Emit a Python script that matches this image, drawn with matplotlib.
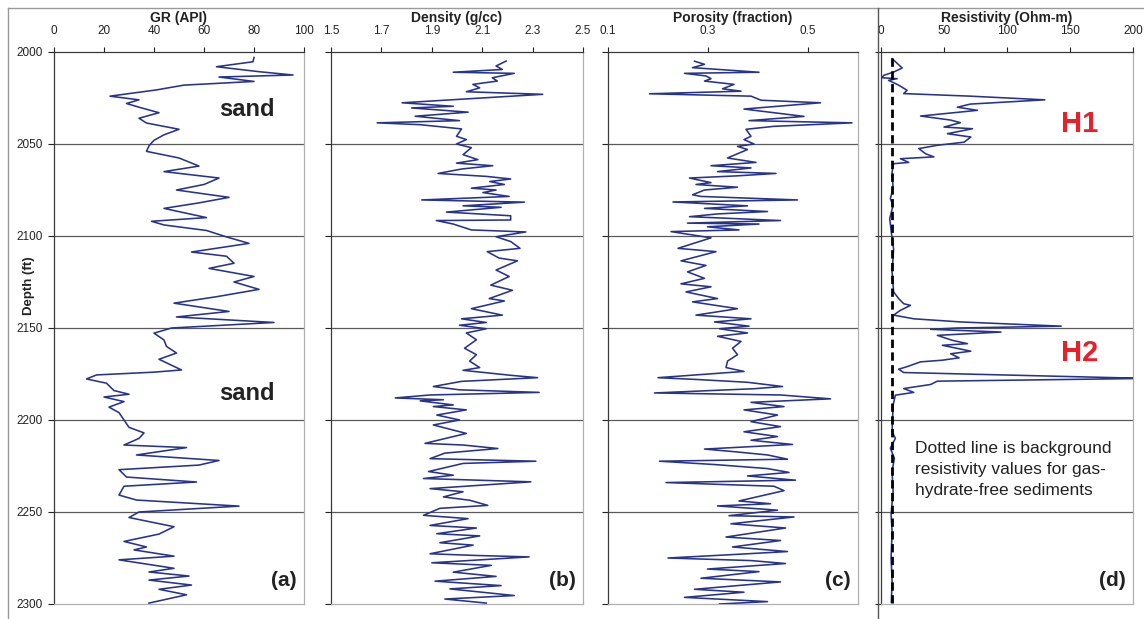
import numpy as np
import matplotlib
matplotlib.use("Agg")
import matplotlib.pyplot as plt
from matplotlib.lines import Line2D

plt.rcParams['font.family'] = ['Liberation Sans', 'DejaVu Sans']

# ---------------- data ----------------
gr_depth = [2003, 2005.3, 2008, 2010.7, 2012.5, 2013.6, 2016, 2018, 2020.6, 2024, 2026, 2028, 2030,
            2033, 2036, 2038.6, 2042, 2045, 2048, 2051, 2054, 2057.6, 2062, 2065, 2068.5, 2072, 2075,
            2079, 2082, 2085, 2090, 2092, 2094, 2097, 2100.5, 2104, 2108.7, 2111, 2114.8, 2117.6,
            2122, 2125, 2129, 2133, 2136.5, 2141, 2144, 2147, 2150, 2152.8, 2156.5, 2160, 2163.6,
            2167, 2172.8, 2174, 2175.5, 2177.7, 2180, 2184, 2186, 2187.5, 2190, 2193, 2196, 2200,
            2204, 2207, 2210, 2213.6, 2215, 2219, 2222, 2224.5, 2227, 2231, 2233.7, 2236, 2240.8,
            2243.5, 2246.8, 2250, 2253, 2258, 2262, 2266, 2269, 2270.6, 2274, 2276, 2280.6, 2282.6,
            2284.8, 2287, 2289.7, 2292, 2295, 2299.5]
gr_api = [80, 79.6, 65, 82, 95.6, 66, 80, 52, 41, 22.4, 34, 29, 34,
          42, 34, 37, 50, 44, 40, 38, 37, 50, 58, 44, 66, 60, 49,
          70, 58, 44, 61, 39, 44, 61, 69, 78, 55, 69, 72, 62,
          80, 72, 82, 65, 48, 70, 49, 88, 47, 40, 44, 45, 49,
          42, 51, 40, 17, 13, 21, 24, 30, 20, 28, 22, 26, 28,
          30, 36, 34, 28, 53, 33, 66, 58, 26, 29, 57, 28, 26,
          33, 74, 34, 30, 48, 42, 28, 37, 32, 48, 26, 48, 38,
          54, 38, 55, 42, 53, 38]

den_depth = [2004.9, 2007.6, 2009.5, 2011, 2011.6, 2014, 2015.8, 2017.6, 2019.5, 2021.6, 2023, 2025.8,
             2027.6, 2029.5, 2030.4, 2032.7, 2034.9, 2037.3, 2038.5, 2039.5, 2041.8, 2045.8, 2047.6,
             2050, 2052, 2055.8, 2058.5, 2060.4, 2061.8, 2063.6, 2066, 2067.6, 2069, 2070.4, 2072,
             2074, 2075, 2076.4, 2078.5, 2080.4, 2081.6, 2083.6, 2084.4, 2087, 2089, 2091.3, 2091.6,
             2093.5, 2096.7, 2097.8, 2100.4, 2103, 2106.7, 2108.5, 2112, 2113.5, 2118.5, 2122,
             2126.7, 2129.5, 2134, 2135.3, 2139.5, 2143, 2145, 2147, 2148.5, 2150.4, 2152.7, 2156.4,
             2161, 2164.5, 2168, 2171.5, 2173, 2175.8, 2177, 2179, 2181.8, 2183.6, 2185, 2186.4,
             2188, 2189, 2189.6, 2191.8, 2192.7, 2194.5, 2197.3, 2200, 2202.7, 2207.3, 2212.7,
             2213.6, 2215.5, 2218, 2221, 2222.4, 2223.6, 2228, 2230, 2231.8, 2233.6, 2237.3, 2239,
             2241.8, 2243.6, 2246.4, 2248, 2251.8, 2253.6, 2257.3, 2258.7, 2261.8, 2263, 2266.7,
             2268, 2272.7, 2273.6, 2274.4, 2277.6, 2279, 2282.7, 2285, 2287.6, 2290, 2291.8,
             2295.4, 2297.3, 2299.5]
den_gcc = [2.195, 2.155, 2.18, 1.985, 2.227, 2.14, 2.16, 2.063, 2.09, 2.037, 2.34, 1.998,
           1.782, 1.985, 1.82, 2.044, 1.834, 2.01, 1.683, 1.854, 2.018, 1.998, 2.037,
           1.998, 2.057, 2.024, 2.083, 1.998, 2.142, 2.018, 1.925, 2.116, 2.213, 2.13, 2.188,
           2.057, 2.155, 2.103, 2.207, 1.86, 2.267, 2.024, 2.175, 1.958, 2.213, 2.213, 1.918,
           1.985, 2.057, 2.273, 2.155, 2.213, 2.25, 2.12, 2.167, 2.24, 2.155, 2.207,
           2.134, 2.22, 2.128, 2.188, 2.057, 2.18, 2.018, 2.116, 2.01, 2.116, 2.037, 2.077,
           2.03, 2.077, 2.05, 2.09, 2.024, 2.22, 2.32, 2.018, 1.906, 2.01, 2.326, 1.893,
           1.755, 1.946, 1.854, 1.985, 1.906, 2.037, 1.92, 2.01, 1.906, 2.037, 1.873,
           2.024, 2.162, 1.952, 1.893, 2.313, 2.024, 1.887, 1.985, 1.867, 2.293, 1.893, 2.024,
           1.946, 2.05, 2.122, 1.932, 1.867, 2.044, 1.893, 2.077, 1.92, 2.09, 1.932,
           2.064, 1.893, 2.07, 2.286, 1.9, 2.136, 1.985, 2.155, 1.913, 2.175, 1.972,
           2.227, 1.952, 2.116]

por_depth = [2005, 2006.7, 2008.5, 2011, 2011.6, 2013, 2014.5, 2015.8, 2017.6, 2020, 2021.3, 2022.7,
             2024, 2026.2, 2027.6, 2031, 2035, 2037.3, 2038.5, 2040.4, 2042, 2045.8, 2047.6, 2050,
             2051.3, 2053, 2057.6, 2060, 2061.8, 2063, 2065, 2066, 2067.3, 2068.5, 2071, 2072,
             2073.5, 2075, 2077.6, 2078.5, 2080.4, 2081.5, 2083.6, 2085, 2086.7, 2088, 2089.5,
             2091.6, 2093, 2093.5, 2095, 2096.7, 2097.6, 2101, 2106.7, 2108.5, 2113.5, 2116,
             2119.5, 2123, 2126, 2127.6, 2130.4, 2134, 2135.8, 2139.5, 2143, 2145, 2146.7, 2149,
             2150.4, 2152.7, 2154.5, 2157.3, 2161, 2164.5, 2168, 2171.5, 2173.6, 2177, 2178,
             2179.5, 2181.8, 2183, 2185.3, 2186.4, 2188.5, 2190.4, 2192.7, 2194.5, 2197.3, 2200.9,
             2203.6, 2206.4, 2209, 2211, 2213.3, 2215.8, 2217.3, 2219, 2221.3, 2222.4, 2224.2,
             2226.4, 2228.5, 2230.4, 2232.7, 2234, 2236, 2238.4, 2244, 2245.5, 2246.7, 2249, 2252,
             2252.7, 2256.4, 2258.7, 2263.6, 2265.5, 2269, 2271.5, 2273, 2275, 2276.4, 2278, 2281,
             2282.4, 2286, 2288, 2292, 2293.6, 2296.4, 2298.7, 2300]
por_frac = [0.273, 0.293, 0.269, 0.402, 0.253, 0.296, 0.306, 0.293, 0.352, 0.329, 0.366, 0.183,
            0.386, 0.406, 0.525, 0.372, 0.492, 0.382, 0.588, 0.432, 0.376, 0.386, 0.372, 0.392,
            0.359, 0.379, 0.339, 0.396, 0.306, 0.386, 0.319, 0.436, 0.359, 0.263, 0.306, 0.276,
            0.359, 0.293, 0.269, 0.286, 0.479, 0.23, 0.379, 0.293, 0.419, 0.319, 0.263,
            0.445, 0.259, 0.402, 0.299, 0.362, 0.226, 0.306, 0.24, 0.316, 0.246, 0.296,
            0.259, 0.293, 0.246, 0.306, 0.256, 0.319, 0.269, 0.359, 0.276, 0.386, 0.313, 0.382,
            0.323, 0.379, 0.319, 0.366, 0.349, 0.359, 0.339, 0.336, 0.372, 0.2, 0.279,
            0.379, 0.449, 0.392, 0.193, 0.445, 0.545, 0.386, 0.452, 0.372, 0.439, 0.386,
            0.445, 0.372, 0.439, 0.386, 0.469, 0.293, 0.356, 0.419, 0.459, 0.203, 0.313,
            0.419, 0.462, 0.379, 0.475, 0.216, 0.432, 0.452, 0.362, 0.425, 0.319, 0.439, 0.342,
            0.472, 0.346, 0.455, 0.336, 0.445, 0.349, 0.459, 0.359, 0.22, 0.386, 0.455, 0.299,
            0.402, 0.286, 0.445, 0.273, 0.372, 0.253, 0.419, 0.323]

res_depth = [2003.6, 2008.7, 2010.9, 2012.7, 2014, 2014.5, 2015.4, 2018, 2020.8, 2022.6, 2024, 2026,
             2028.3, 2030, 2031.7, 2034.8, 2037, 2038.4, 2040.8, 2041.7, 2044.4, 2046.2, 2049,
             2050.7, 2052.5, 2055.3, 2057, 2058, 2060, 2060.7, 2065.2, 2074.3, 2079.7, 2083.3,
             2090.6, 2101.4, 2107, 2119.6, 2130.4, 2134, 2136.8, 2137.7, 2140.4, 2143, 2145,
             2146.7, 2149, 2150, 2150.7, 2152.2, 2154, 2156.7, 2158.5, 2159.4, 2162.6, 2164,
             2166.2, 2167.5, 2168.4, 2171, 2172.4, 2174.2, 2177.4, 2178.9, 2180.7, 2182.9, 2185,
             2186.5, 2191.9, 2206.3, 2210, 2215.3, 2220.8, 2228, 2238.8, 2251.4, 2260.5, 2275,
             2287.5, 2299]
res_ohm = [8.8, 16.8, 10, 2.1, 0.8, 12.8, 6, 14, 20.7, 18, 71, 130,
           71, 60.6, 76.6, 31.4, 55.3, 63, 50, 72.6, 52.7, 71.3, 66,
           44.7, 30, 35.4, 42, 15.4, 22, 10, 8.8, 9.6, 7.4, 9.6,
           6.9, 8.8, 10, 8.8, 10, 14, 18, 23.4, 15.4, 10, 26,
           63, 143, 60.6, 39.4, 95.2, 44.7, 56.6, 68.6, 48.7, 71.3, 55.3,
           62, 48.7, 31.4, 20.7, 14, 18, 210, 44.7, 39.4, 18, 26,
           11.4, 9.6, 8.8, 11.4, 7.4, 10.6, 8.8, 9.6, 8, 8.8, 8,
           8.8, 8.2]

bg_res = [9, 9]
bg_depth = [2003, 2300]

depth_ticks = [2000, 2050, 2100, 2150, 2200, 2250, 2300]
grid_depths = [2050, 2100, 2150, 2200, 2250]

gr_ticks = [0, 20, 40, 60, 80, 100]
den_ticks = [1.5, 1.7, 1.9, 2.1, 2.3, 2.5]
por_ticks = [0.1, 0.3, 0.5]
res_ticks = [0, 50, 100, 150, 200]

# ---------------- figure ----------------
W, H = 1144, 619
fig = plt.figure(figsize=(W / 100, H / 100), dpi=100)
fig.patch.set_facecolor('white')


def rect(x0, x1, y0, y1):
    return [x0 / W, 1 - y1 / H, (x1 - x0) / W, (y1 - y0) / H]


def frac_from_top(y):
    # pixel row inside the axes (52..604) -> axes fraction (bottom = 0)
    return 1 - (y - 52) / 552


LINE = '#27338c'

panels = [
    dict(pos=(54, 304), xlim=(0, 100), ticks=gr_ticks, labels=[str(t) for t in gr_ticks],
         title='GR (API)', d=gr_depth, v=gr_api, tag='(a)'),
    dict(pos=(331, 583), xlim=(1.5, 2.5), ticks=den_ticks, labels=['%.1f' % t for t in den_ticks],
         title='Density (g/cc)', d=den_depth, v=den_gcc, tag='(b)'),
    dict(pos=(608, 858), xlim=(0.1, 0.6), ticks=por_ticks, labels=['%.1f' % t for t in por_ticks],
         title='Porosity (fraction)', d=por_depth, v=por_frac, tag='(c)'),
    dict(pos=(881, 1133), xlim=(0, 200), ticks=res_ticks, labels=[str(t) for t in res_ticks],
         title='Resistivity (Ohm-m)', d=res_depth, v=res_ohm, tag='(d)'),
]

axes = []
for i, p in enumerate(panels):
    ax = fig.add_axes(rect(p['pos'][0], p['pos'][1], 52, 604))
    axes.append(ax)
    ax.set_xlim(*p['xlim'])
    ax.set_ylim(2300, 2000)
    for g in grid_depths:
        ax.axhline(g, color='#5a5a5a', lw=0.9, zorder=1)
    order = np.argsort(p['d'], kind='stable')
    ax.plot(np.asarray(p['v'])[order], np.asarray(p['d'])[order], color=LINE, lw=1.15, zorder=3)
    ax.xaxis.tick_top()
    ax.set_xticks(p['ticks'])
    ax.set_xticklabels(p['labels'])
    ax.tick_params(axis='x', direction='out', length=3.5, width=0.8, pad=7, labelsize=8.5,
                   colors='#222222')
    ax.set_yticks(depth_ticks)
    if i == 0:
        ax.set_yticklabels([str(t) for t in depth_ticks])
    else:
        ax.set_yticklabels([])
    ax.tick_params(axis='y', direction='out', length=4, width=0.8, pad=4, labelsize=8.5,
                   colors='#222222')
    ax.spines['left'].set_color('#3a3a3a')
    ax.spines['top'].set_color('#3a3a3a')
    ax.spines['right'].set_color('#b0b0b0')
    ax.spines['bottom'].set_color('#b0b0b0')
    for s in ax.spines.values():
        s.set_linewidth(0.9)
    cx = (p['pos'][0] + p['pos'][1]) / 2
    fig.text(cx / W, 1 - 18 / H, p['title'], ha='center', va='center', fontsize=10,
             fontweight='bold', color='#222222')
    ax.text(0.97, frac_from_top(580), p['tag'], transform=ax.transAxes, ha='right', va='center',
            fontsize=15, fontweight='bold', color='#222222')

# background resistivity
axes[3].plot(bg_res, bg_depth, color='black', lw=2.0, linestyle=(0, (3, 1.6)), zorder=4)

# annotations
axes[0].text(0.77, frac_from_top(110), 'sand', transform=axes[0].transAxes, ha='center',
             va='center', fontsize=17, fontweight='bold', color='#222222')
axes[0].text(0.77, frac_from_top(393), 'sand', transform=axes[0].transAxes, ha='center',
             va='center', fontsize=17, fontweight='bold', color='#222222')
axes[3].text(0.79, frac_from_top(124), 'H1', transform=axes[3].transAxes, ha='center',
             va='center', fontsize=21, fontweight='bold', color='#e8202a')
axes[3].text(0.79, frac_from_top(353), 'H2', transform=axes[3].transAxes, ha='center',
             va='center', fontsize=21, fontweight='bold', color='#e8202a')
axes[3].text(0.135, frac_from_top(441),
             'Dotted line is background\nresistivity values for gas-\nhydrate-free sediments',
             transform=axes[3].transAxes, ha='left', va='top', fontsize=12.5, color='#222222',
             linespacing=1.5)

fig.text(29 / W, 1 - 286 / H, 'Depth (ft)', rotation=90, ha='center', va='center',
         fontsize=9.5, fontweight='bold', color='#222222')

# outer frame lines
fig.add_artist(Line2D([8 / W, 1], [1 - 8 / H, 1 - 8 / H], transform=fig.transFigure,
                      color='#9a9a9a', lw=1.0))
fig.add_artist(Line2D([8 / W, 8 / W], [1 - 8 / H, 0], transform=fig.transFigure,
                      color='#9a9a9a', lw=1.0))
fig.add_artist(Line2D([878 / W, 878 / W], [1 - 8 / H, 0], transform=fig.transFigure,
                      color='#555555', lw=1.0))

fig.savefig('out.png', dpi=100)
